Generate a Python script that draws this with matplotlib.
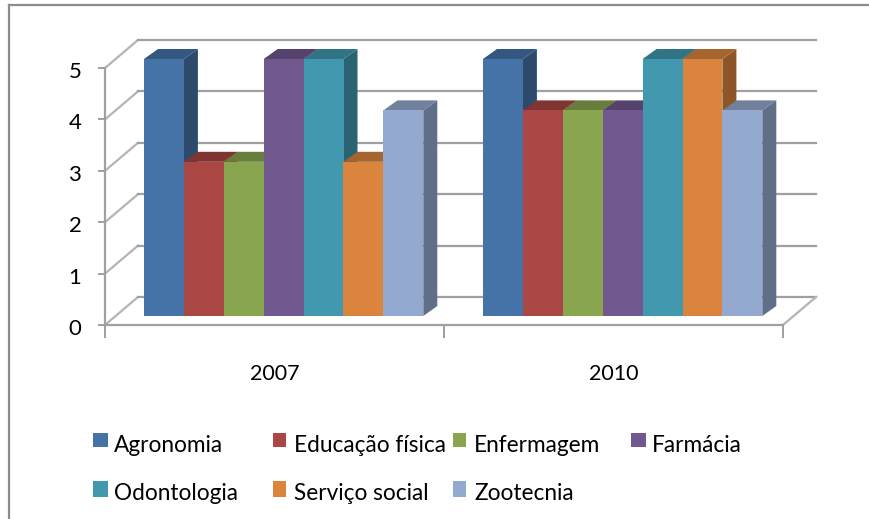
import matplotlib
matplotlib.use("Agg")
import matplotlib.pyplot as plt
from matplotlib.colors import to_rgb
from matplotlib.patches import Polygon, Rectangle
from matplotlib.transforms import ScaledTranslation

W, H = 869, 519

# Data
years = ["2007", "2010"]
courses = ["Agronomia", "Educação física", "Enfermagem", "Farmácia",
           "Odontologia", "Serviço social", "Zootecnia"]
values_2007 = [5, 3, 3, 5, 5, 3, 4]
values_2010 = [5, 4, 4, 4, 5, 5, 4]
y_ticks = [0, 1, 2, 3, 4, 5]

colors = ["#4572A7", "#AA4643", "#89A54E", "#71588F", "#4198AF", "#DB843D", "#93A9CF"]

plt.rcParams['font.family'] = ['Lato', 'DejaVu Sans']

fig = plt.figure(figsize=(W / 100, H / 100), dpi=100)
fig.patch.set_facecolor("white")

# outer chart border, only the top and left edges are in the picture
border = "#8C8C8C"
fig.add_artist(plt.Line2D([9 / W, 1], [1 - 5 / H, 1 - 5 / H], color=border, lw=1.6))
fig.add_artist(plt.Line2D([9 / W, 9 / W], [0, 1 - 5 / H], color=border, lw=1.6))

# front plane of the box: x 105-783 px, y 325-68 px
ax = fig.add_axes([105 / W, 1 - 325 / H, 678 / W, 257 / H])
ax.set_xlim(0, 2)
ax.set_ylim(0, 5)
ax.patch.set_alpha(0)

grey = "#A0A0A0"
# 3d offsets in data units
box_dx, box_dy = 33 / 339, 28 / 51.4
bar_dx, bar_dy = 14 / 339, 10 / 51.4
bar_w = 39.9 / 339
bar_base = 9 / 51.4
bar_start = 39 / 339


def shade(c, f):
    r, g, b = to_rgb(c)
    return (r * f, g * f, b * f)


# back wall gridlines and floor/side lines
for v in y_ticks:
    ax.plot([0, box_dx], [v, v + box_dy], color="#B4B4B4", lw=1.6, clip_on=False, zorder=1)
    ax.plot([box_dx, 2 + box_dx], [v + box_dy, v + box_dy], color=grey, lw=1.6, clip_on=False, zorder=1)
ax.plot([2, 2 + box_dx], [0, box_dy], color="#B4B4B4", lw=1.6, clip_on=False, zorder=1)

for g, vals in enumerate([values_2007, values_2010]):
    for i, v in enumerate(vals):
        x0 = g + bar_start + i * bar_w
        x1 = x0 + bar_w
        top = bar_base + v
        z = 3 + i * 0.01
        ax.add_patch(Polygon([(x1, bar_base), (x1 + bar_dx, bar_base + bar_dy), (x1 + bar_dx, top + bar_dy), (x1, top)],
                             facecolor=shade(colors[i], 0.65), edgecolor="none", clip_on=False, zorder=z))
        ax.add_patch(Polygon([(x0, top), (x0 + bar_dx, top + bar_dy), (x1 + bar_dx, top + bar_dy), (x1, top)],
                             facecolor=shade(colors[i], 0.76), edgecolor="none", clip_on=False, zorder=z))
        ax.bar(x0, v, width=bar_w, bottom=bar_base, align="edge", color=colors[i],
               clip_on=False, zorder=z + 0.005)

for s in ["top", "right"]:
    ax.spines[s].set_visible(False)
for s in ["left", "bottom"]:
    ax.spines[s].set_color("#A0A0A0")
    ax.spines[s].set_linewidth(1.6)
    ax.spines[s].set_zorder(2)

ax.set_yticks(y_ticks)
ax.set_xticks([0, 1, 2])
ax.set_xticklabels([])
ax.tick_params(axis="y", length=5, width=1.2, color="#909090", labelsize=16, pad=12, labelcolor="black")
ax.tick_params(axis="x", length=9, width=1.2, color="#909090")
ax.set_xticks([0.5, 1.5], labels=years, minor=True)
ax.tick_params(axis="x", which="minor", length=0, labelsize=15.5, pad=28, labelcolor="black")

# y labels sit a little below their ticks in the original
shift = ScaledTranslation(0, -2 / 100, fig.dpi_scale_trans)
for lab in ax.get_yticklabels():
    lab.set_transform(lab.get_transform() + shift)

# legend, laid out by hand like the Excel one
leg_x = [93, 273, 453, 631, 93, 273, 453]
leg_w = [15, 13, 13, 15, 15, 13, 13]
leg_y = [445, 445, 445, 445, 493, 493, 493]
leg_top = [433, 433, 433, 433, 481, 481, 481]
leg_h = [14, 14, 14, 14, 16, 16, 16]
for c, name, lx, lw_, ly, lt, lh in zip(colors, courses, leg_x, leg_w, leg_y, leg_top, leg_h):
    fig.add_artist(Rectangle((lx / W, 1 - (lt + lh) / H), lw_ / W, lh / H, transform=fig.transFigure,
                             facecolor=c, edgecolor="none"))
    fig.text((lx + 21) / W, 1 - ly / H, name, fontsize=16.3, va="center", ha="left", color="black")

fig.savefig("out.png", dpi=100)
